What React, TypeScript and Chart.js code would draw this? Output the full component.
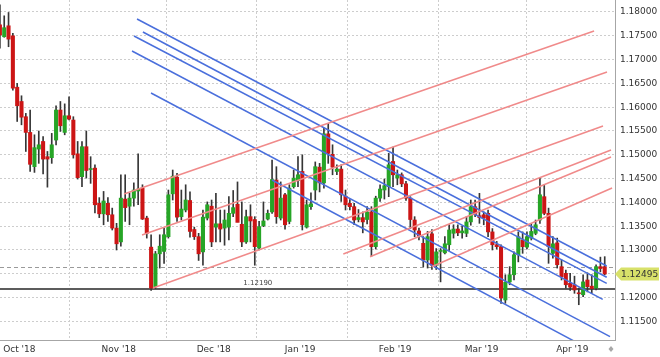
import React, { useEffect, useRef } from 'react';
import { Chart, registerables } from 'chart.js';

Chart.register(...registerables);

// Daily EUR/USD candles, 24 Sep 2018 .. 10 Apr 2019 (index 0 = 24 Sep 2018)
const openP = [
  1.1773, 1.1748, 1.1771, 1.1750, 1.1642, 1.1612, 1.1580, 1.1547, 1.1475, 1.1512,
  1.1528, 1.1496, 1.1494, 1.1531, 1.1594, 1.1547, 1.1582, 1.1573, 1.1502, 1.1454,
  1.1517, 1.1469, 1.1472, 1.1398, 1.1376, 1.1398, 1.1374, 1.1346, 1.1317, 1.1407,
  1.1392, 1.1409, 1.1424, 1.1430, 1.1367, 1.1306, 1.1223, 1.1292, 1.1297, 1.1328,
  1.1418, 1.1453, 1.1370, 1.1384, 1.1404, 1.1343, 1.1328, 1.1296, 1.1367, 1.1392,
  1.1348, 1.1355, 1.1346, 1.1348, 1.1377, 1.1396, 1.1354, 1.1317, 1.1370, 1.1364,
  1.1304, 1.1351, 1.1365, 1.1380, 1.1447, 1.1367, 1.1416, 1.1360, 1.1433, 1.1446,
  1.1465, 1.1348, 1.1391, 1.1426, 1.1474, 1.1441, 1.1544, 1.1501, 1.1465, 1.1470,
  1.1413, 1.1398, 1.1391, 1.1364, 1.1368, 1.1364, 1.1380, 1.1307, 1.1409, 1.1426,
  1.1433, 1.1486, 1.1451, 1.1458, 1.1439, 1.1409, 1.1363, 1.1340, 1.1314, 1.1279,
  1.1334, 1.1268, 1.1297, 1.1294, 1.1311, 1.1335, 1.1344, 1.1336, 1.1335, 1.1359,
  1.1391, 1.1372, 1.1374, 1.1377, 1.1338, 1.1311, 1.1307, 1.1195, 1.1233, 1.1248,
  1.1290, 1.1321, 1.1306, 1.1325, 1.1335, 1.1363, 1.1412, 1.1377, 1.1293, 1.1315,
  1.1265, 1.1251, 1.1230, 1.1227, 1.1210, 1.1206, 1.1237, 1.1224, 1.1220, 1.1265,
  1.1265,
];
const highP = [
  1.1815, 1.1792, 1.1799, 1.1755, 1.1650, 1.1624, 1.1587, 1.1594, 1.1542, 1.1550,
  1.1538, 1.1507, 1.1545, 1.1603, 1.1612, 1.1607, 1.1622, 1.1580, 1.1528, 1.1528,
  1.1550, 1.1496, 1.1479, 1.1410, 1.1423, 1.1410, 1.1388, 1.1356, 1.1458, 1.1458,
  1.1420, 1.1441, 1.1502, 1.1437, 1.1371, 1.1332, 1.1297, 1.1332, 1.1346, 1.1426,
  1.1468, 1.1461, 1.1426, 1.1437, 1.1422, 1.1348, 1.1335, 1.1384, 1.1401, 1.1405,
  1.1419, 1.1384, 1.1384, 1.1412, 1.1425, 1.1443, 1.1401, 1.1384, 1.1395, 1.1370,
  1.1360, 1.1401, 1.1384, 1.1489, 1.1475, 1.1443, 1.1419, 1.1437, 1.1468, 1.1496,
  1.1500, 1.1405, 1.1420, 1.1485, 1.1482, 1.1556, 1.1566, 1.1521, 1.1479, 1.1479,
  1.1426, 1.1406, 1.1398, 1.1385, 1.1380, 1.1391, 1.1391, 1.1413, 1.1437, 1.1449,
  1.1503, 1.1516, 1.1468, 1.1462, 1.1444, 1.1412, 1.1370, 1.1346, 1.1328, 1.1339,
  1.1343, 1.1303, 1.1303, 1.1328, 1.1353, 1.1353, 1.1353, 1.1350, 1.1370, 1.1405,
  1.1405, 1.1419, 1.1380, 1.1384, 1.1345, 1.1318, 1.1311, 1.1248, 1.1265, 1.1296,
  1.1338, 1.1338, 1.1338, 1.1356, 1.1363, 1.1451, 1.1437, 1.1388, 1.1328, 1.1325,
  1.1279, 1.1258, 1.1251, 1.1245, 1.1220, 1.1248, 1.1252, 1.1248, 1.1269, 1.1285,
  1.1286,
];
const lowP = [
  1.1724, 1.1747, 1.1727, 1.1636, 1.1570, 1.1563, 1.1507, 1.1465, 1.1463, 1.1482,
  1.1460, 1.1432, 1.1482, 1.1521, 1.1549, 1.1542, 1.1573, 1.1493, 1.1449, 1.1433,
  1.1451, 1.1440, 1.1378, 1.1368, 1.1353, 1.1360, 1.1342, 1.1300, 1.1308, 1.1360,
  1.1353, 1.1392, 1.1395, 1.1364, 1.1325, 1.1215, 1.1219, 1.1262, 1.1272, 1.1325,
  1.1405, 1.1360, 1.1363, 1.1380, 1.1327, 1.1322, 1.1278, 1.1268, 1.1363, 1.1307,
  1.1317, 1.1317, 1.1310, 1.1321, 1.1370, 1.1359, 1.1307, 1.1314, 1.1317, 1.1268,
  1.1300, 1.1349, 1.1363, 1.1377, 1.1356, 1.1363, 1.1344, 1.1355, 1.1430, 1.1433,
  1.1342, 1.1346, 1.1385, 1.1405, 1.1422, 1.1430, 1.1482, 1.1458, 1.1458, 1.1402,
  1.1384, 1.1384, 1.1353, 1.1359, 1.1336, 1.1355, 1.1287, 1.1302, 1.1402, 1.1407,
  1.1412, 1.1433, 1.1437, 1.1433, 1.1404, 1.1345, 1.1328, 1.1321, 1.1265, 1.1262,
  1.1259, 1.1259, 1.1233, 1.1292, 1.1299, 1.1325, 1.1330, 1.1325, 1.1328, 1.1352,
  1.1370, 1.1356, 1.1353, 1.1328, 1.1300, 1.1302, 1.1188, 1.1188, 1.1227, 1.1237,
  1.1275, 1.1293, 1.1302, 1.1321, 1.1332, 1.1356, 1.1374, 1.1272, 1.1283, 1.1262,
  1.1237, 1.1220, 1.1215, 1.1209, 1.1185, 1.1202, 1.1212, 1.1209, 1.1216, 1.1254,
  1.1248,
];
const closeP = [
  1.1752, 1.1767, 1.1743, 1.1640, 1.1603, 1.1579, 1.1547, 1.1480, 1.1515, 1.1521,
  1.1491, 1.1491, 1.1521, 1.1594, 1.1561, 1.1582, 1.1575, 1.1500, 1.1452, 1.1517,
  1.1467, 1.1470, 1.1395, 1.1376, 1.1403, 1.1374, 1.1346, 1.1313, 1.1409, 1.1389,
  1.1409, 1.1426, 1.1428, 1.1365, 1.1335, 1.1220, 1.1292, 1.1308, 1.1332, 1.1416,
  1.1455, 1.1369, 1.1386, 1.1405, 1.1339, 1.1328, 1.1292, 1.1369, 1.1395, 1.1317,
  1.1355, 1.1344, 1.1363, 1.1377, 1.1389, 1.1358, 1.1317, 1.1370, 1.1361, 1.1307,
  1.1349, 1.1361, 1.1377, 1.1448, 1.1370, 1.1409, 1.1353, 1.1430, 1.1451, 1.1458,
  1.1353, 1.1395, 1.1397, 1.1475, 1.1441, 1.1544, 1.1503, 1.1474, 1.1470, 1.1416,
  1.1395, 1.1391, 1.1363, 1.1368, 1.1359, 1.1380, 1.1307, 1.1409, 1.1428, 1.1435,
  1.1479, 1.1458, 1.1458, 1.1439, 1.1409, 1.1364, 1.1342, 1.1329, 1.1279, 1.1328,
  1.1268, 1.1296, 1.1299, 1.1313, 1.1342, 1.1344, 1.1336, 1.1340, 1.1359, 1.1391,
  1.1374, 1.1368, 1.1367, 1.1338, 1.1311, 1.1307, 1.1199, 1.1232, 1.1248, 1.1290,
  1.1328, 1.1307, 1.1328, 1.1339, 1.1353, 1.1416, 1.1377, 1.1307, 1.1313, 1.1269,
  1.1244, 1.1227, 1.1222, 1.1216, 1.1208, 1.1233, 1.1223, 1.1219, 1.1265, 1.1261,
  1.12495,
];

// Month axis labels and the candle index of each month's first trading day
const monthLabels = ["Oct '18", "Nov '18", "Dec '18", "Jan '19", "Feb '19", "Mar '19", "Apr '19"];
const monthStartIdx = [5, 28, 50, 70, 92, 112, 133];

// Price axis tick values
const priceTicks = [
  1.115, 1.12, 1.125, 1.13, 1.135, 1.14, 1.145, 1.15, 1.155, 1.16, 1.165, 1.17, 1.175, 1.18,
];

// Trend lines: [startIndex, startPrice, endIndex, endPrice]
const blueLines = [
  [31.74, 1.17853, 140.46, 1.12664],
  [33.1, 1.1758, 140.46, 1.12427],
  [31.04, 1.17496, 140.46, 1.123],
  [30.58, 1.17181, 139.54, 1.11964],
  [34.98, 1.16298, 141.23, 1.11179],
  [62.99, 1.14471, 140.0, 1.10743],
];
const redLines = [
  [28.73, 1.14176, 137.53, 1.17601],
  [32.89, 1.13315, 140.53, 1.16739],
  [35.44, 1.12202, 139.61, 1.15605],
  [79.49, 1.12916, 141.46, 1.15101],
  [85.67, 1.12859, 141.46, 1.14954],
  [99.95, 1.12649, 141.7, 1.14302],
];

const supportLevel = 1.1219;
const sessionOpen = 1.1265;
const supportLabelIdx = 59.7;

const X_MIN = 0.023;
const X_MAX = 142.38;
const Y_MIN = 1.11109;
const Y_MAX = 1.18252;

const GREEN = '#26a526';
const RED = '#cc1515';
const BLUE = '#4a6fdc';
const PINK = '#f08a8a';
const FONT = "'DejaVu Sans', Verdana, sans-serif";

const overlayPlugin = {
  id: 'overlay',
  beforeDatasetsDraw(chart: any) {
    const { ctx, chartArea, scales } = chart;
    const x = scales.x;
    const y = scales.y;
    ctx.save();
    ctx.beginPath();
    ctx.rect(chartArea.left, chartArea.top, chartArea.right - chartArea.left, chartArea.bottom - chartArea.top);
    ctx.clip();
    const yo = Math.round(y.getPixelForValue(sessionOpen)) + 0.5;
    ctx.setLineDash([4, 3]);
    ctx.strokeStyle = '#9a9a9a';
    ctx.lineWidth = 1;
    ctx.beginPath();
    ctx.moveTo(chartArea.left, yo);
    ctx.lineTo(chartArea.right, yo);
    ctx.stroke();
    ctx.setLineDash([]);
    const ys = Math.round(y.getPixelForValue(supportLevel));
    ctx.strokeStyle = '#5c5c5c';
    ctx.lineWidth = 2;
    ctx.beginPath();
    ctx.moveTo(chartArea.left, ys);
    ctx.lineTo(chartArea.right, ys);
    ctx.stroke();
    ctx.font = `7px ${FONT}`;
    ctx.fillStyle = '#444';
    ctx.textAlign = 'center';
    ctx.textBaseline = 'alphabetic';
    ctx.fillText(supportLevel.toFixed(5), x.getPixelForValue(supportLabelIdx), ys - 4);
    ctx.restore();
  },
  afterDraw(chart: any) {
    const { ctx, chartArea, scales } = chart;
    const y = scales.y;
    const last = closeP[closeP.length - 1];
    const yc = y.getPixelForValue(last);
    const x0 = chartArea.right;
    ctx.save();
    ctx.fillStyle = '#d8e16a';
    ctx.beginPath();
    ctx.moveTo(x0, yc);
    ctx.lineTo(x0 + 6, yc - 6.5);
    ctx.lineTo(x0 + 44, yc - 6.5);
    ctx.lineTo(x0 + 44, yc + 6.5);
    ctx.lineTo(x0 + 6, yc + 6.5);
    ctx.closePath();
    ctx.fill();
    ctx.fillStyle = '#333';
    ctx.font = `9px ${FONT}`;
    ctx.textAlign = 'left';
    ctx.textBaseline = 'middle';
    ctx.fillText(last.toFixed(5), x0 + 6, yc + 0.5);
    // small marker under the right end of the time axis
    const mx = chartArea.right - 4;
    const my = chartArea.bottom + 9;
    ctx.fillStyle = '#a8a8a8';
    ctx.beginPath();
    ctx.moveTo(mx, my - 3);
    ctx.lineTo(mx + 2.5, my);
    ctx.lineTo(mx, my + 3);
    ctx.lineTo(mx - 2.5, my);
    ctx.closePath();
    ctx.fill();
    ctx.restore();
  },
};

export default function App() {
  const ref = useRef<HTMLCanvasElement | null>(null);

  useEffect(() => {
    document.body.style.margin = '0';
    const canvas = ref.current;
    if (!canvas) return;

    const lineDs = (l: number[], color: string) => ({
      type: 'line' as const,
      data: [
        { x: l[0], y: l[1] },
        { x: l[2], y: l[3] },
      ],
      borderColor: color,
      borderWidth: 1.5,
      pointRadius: 0,
      fill: false,
      tension: 0,
      order: 1,
    });

    const chart = new Chart(canvas, {
      type: 'bar',
      data: {
        datasets: [
          ...redLines.map((l) => lineDs(l, PINK)),
          ...blueLines.map((l) => lineDs(l, BLUE)),
          {
            type: 'bar',
            data: closeP.map((c, i) => ({ x: i, y: [openP[i], c] })),
            backgroundColor: closeP.map((c, i) => (c >= openP[i] ? GREEN : RED)),
            borderWidth: 0,
            barThickness: 3.4,
            minBarLength: 1,
            grouped: false,
            order: 4,
          },
          {
            type: 'bar',
            data: highP.map((h, i) => ({ x: i, y: [lowP[i], h] })),
            backgroundColor: '#363636',
            borderWidth: 0,
            barThickness: 1,
            grouped: false,
            order: 5,
          },
        ] as any,
      },
      options: {
        responsive: false,
        animation: false,
        devicePixelRatio: 1,
        events: [],
        layout: { padding: 0 },
        plugins: {
          legend: { display: false },
          tooltip: { enabled: false },
        },
        scales: {
          x: {
            type: 'linear',
            min: X_MIN,
            max: X_MAX,
            offset: false,
            grid: { color: '#cdcdcd', drawTicks: false, lineWidth: 1 },
            border: { display: true, color: '#a6a6a6', dash: [2, 2] },
            ticks: {
              autoSkip: false,
              maxRotation: 0,
              padding: 4,
              color: '#333',
              font: { family: FONT, size: 9 },
              callback: (_v: any, i: number) => monthLabels[i] ?? '',
            },
            afterBuildTicks: (s: any) => {
              s.ticks = monthStartIdx.map((i) => ({ value: i - 0.5 }));
            },
            afterFit: (s: any) => {
              s.height = 17;
              s.paddingLeft = 0;
              s.paddingRight = 0;
              s.paddingTop = 0;
              s.paddingBottom = 0;
            },
          },
          y: {
            type: 'linear',
            position: 'right',
            min: Y_MIN,
            max: Y_MAX,
            grid: { color: '#cdcdcd', drawTicks: false, lineWidth: 1 },
            border: { display: true, color: '#a6a6a6', dash: [2, 2] },
            ticks: {
              padding: 5,
              color: '#333',
              font: { family: FONT, size: 9 },
              callback: (v: any) => Number(v).toFixed(5),
            },
            afterBuildTicks: (s: any) => {
              s.ticks = priceTicks.map((v) => ({ value: v }));
            },
            afterFit: (s: any) => {
              s.width = 45;
              s.paddingLeft = 0;
              s.paddingRight = 0;
              s.paddingTop = 0;
              s.paddingBottom = 0;
            },
          },
        },
      } as any,
      plugins: [overlayPlugin],
    });

    return () => chart.destroy();
  }, []);

  return (
    <div style={{ width: 660, height: 357, background: '#fff' }}>
      <canvas ref={ref} width={660} height={357} style={{ display: 'block' }} />
    </div>
  );
}
